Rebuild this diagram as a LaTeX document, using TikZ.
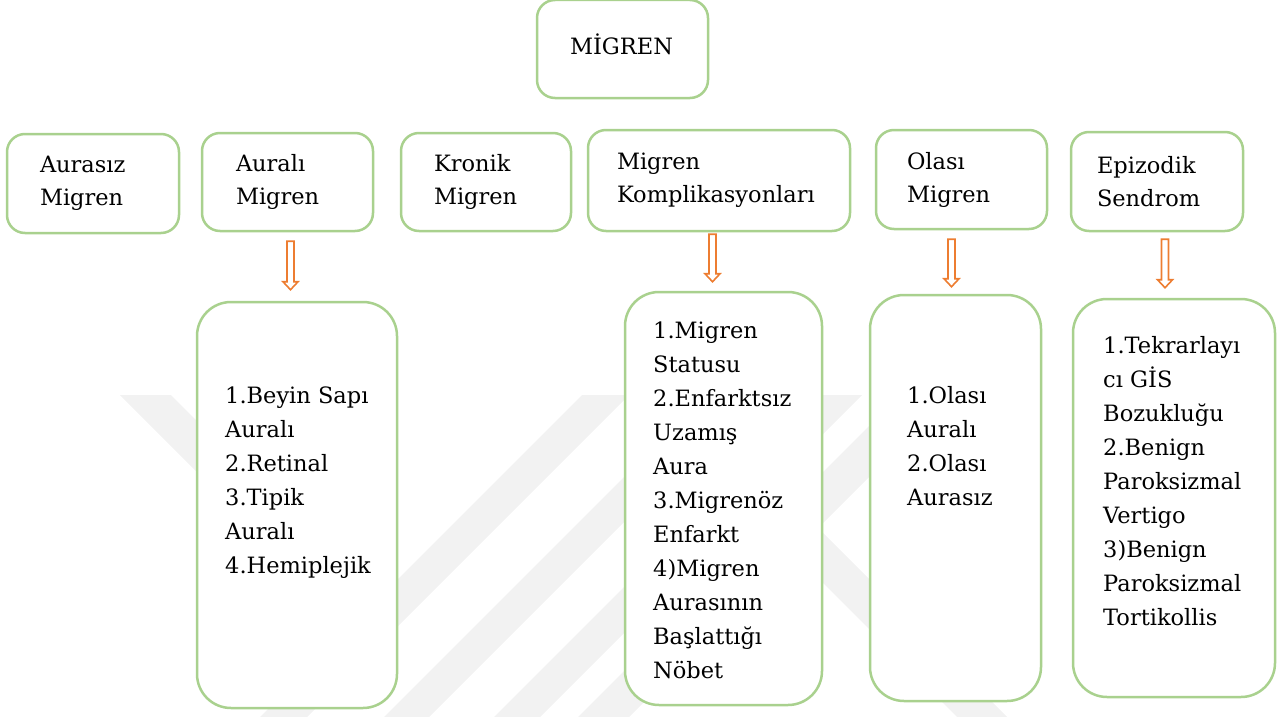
\documentclass[tikz,border=0pt]{standalone}
\usepackage{fontspec}
\setmainfont{DejaVu Serif}
\usetikzlibrary{positioning,calc}
\definecolor{boxgreen}{HTML}{A9D18E}
\definecolor{arroworange}{HTML}{ED7D31}
\hyphenpenalty=10000
\tikzset{
  topbox/.style = {draw=boxgreen, line width=2.5pt, fill=white,
    rounded corners=18pt, align=left, inner ysep=0pt,
    font=\fontsize{22.5}{33}\selectfont},% kutu, ust sira
  listbox/.style = {draw=boxgreen, line width=2.5pt, fill=white,
    rounded corners=34pt, inner sep=0pt},% kutu, alt sira
  listtext/.style = {align=left, inner sep=0pt,
    font=\fontsize{22.5}{34}\selectfont},% alt sira yazisi
  hollow/.style = {draw=arroworange, line width=1.6pt, fill=white,
    line join=miter,
    to path={($(\tikztostart)+(-3.5,0)$) -- ($(\tikztostart)+(3.5,0)$)
      -- ($(\tikztotarget)+(3.5,-8)$) -- ($(\tikztotarget)+(7.5,-8)$)
      -- (\tikztotarget) -- ($(\tikztotarget)+(-7.5,-8)$)
      -- ($(\tikztotarget)+(-3.5,-8)$) -- cycle}},% ici bos ok
  watermark/.style = {fill=black!5}
}

\begin{document}
\begin{tikzpicture}[x=1pt,y=-1pt]
    \useasboundingbox (0,0) rectangle (1279,717);
    % soluk arka plan
    \fill[watermark] (120,395) -- (171,395) -- (376.5,600.5) -- (374.5,649.5) -- cycle;
    \fill[watermark] (582,395) -- (629,395) -- (307,717) -- (260,717) -- cycle;
    \fill[watermark] (706,395) -- (751,395) -- (429,717) -- (384,717) -- cycle;
    \fill[watermark] (816,395) -- (862,395) -- (540,717) -- (494,717) -- cycle;
    \fill[watermark] (900,395) -- (951,395) -- (629,717) -- (578,717) -- cycle;
    \fill[watermark] (720,480) -- (770,480) -- (1007,717) -- (957,717) -- cycle;

    % ust kutular
    \node[topbox, inner xsep=33pt, text width=105pt, minimum height=98pt, text depth=10pt] (migren) at (622.5,49) {M\.{I}GREN};
    \node[topbox, inner xsep=33pt, text width=106pt, minimum height=99pt] (aurasiz) at (93,183.5) {Aurasız\\Migren};
    \node[topbox, inner xsep=34pt, text width=103pt, minimum height=98pt] (aurali) at (287.5,182) {Auralı\\Migren};
    \node[topbox, inner xsep=33pt, text width=104pt, minimum height=98pt] (kronik) at (486,182) {Kronik\\Migren};
    \node[topbox, inner xsep=29pt, text width=204pt, minimum height=101pt] (komp) at (719,180.5) {Migren\\Komplikasyonları};
    \node[topbox, inner xsep=31pt, text width=109pt, minimum height=99pt] (olasi) at (961.5,179.5) {Olası\\Migren};
    \node[topbox, inner xsep=26pt, text width=120pt, minimum height=99pt] (epizodik) at (1157,181.5) {Epizodik\\Sendrom};

    % alt kutular
    \node[listbox, minimum width=200pt, minimum height=406pt] (auralilist) at (297,505) {};
    \node[listbox, minimum width=197pt, minimum height=413pt] (komplist) at (723.5,498.5) {};
    \node[listbox, minimum width=171pt, minimum height=406pt] (olasilist) at (955.5,498) {};
    \node[listbox, minimum width=202pt, minimum height=398pt] (epizlist) at (1174,498) {};

    % yazilar, son satirin taban cizgisine gore
    \node[listtext, anchor=base west] (auralitxt) at (225,573)
        {1.Beyin Sapı\\Auralı\\2.Retinal\\3.Tipik\\Auralı\\4.Hemiplejik};
    \node[listtext, anchor=base west] (komptxt) at (653,678)
        {1.Migren\\Statusu\\2.Enfarktsız\\Uzamış\\Aura\\3.Migrenöz\\Enfarkt\\4)Migren\\Aurasının\\Başlattığı\\Nöbet};
    \node[listtext, anchor=base west] (olasitxt) at (907,505)
        {1.Olası\\Auralı\\2.Olası\\Aurasız};
    \node[listtext, anchor=base west] (epiztxt) at (1103,625)
        {1.Tekrarlayı\\cı G\.{I}S\\Bozukluğu\\2.Benign\\Paroksizmal\\Vertigo\\3)Benign\\Paroksizmal\\Tortikollis};

    % oklar
    \coordinate (a1s) at ([xshift=3pt,yshift=-9pt]aurali.south);
    \coordinate (a1e) at ($(a1s |- auralilist.north)+(0,-11)$);
    \coordinate (a2s) at ([xshift=-6.5pt,yshift=-2pt]komp.south);
    \coordinate (a2e) at ($(a2s |- komplist.north)+(0,-9)$);
    \coordinate (a3s) at ([xshift=-10pt,yshift=-9pt]olasi.south);
    \coordinate (a3e) at ($(a3s |- olasilist.north)+(0,-7)$);
    \coordinate (a4s) at ([xshift=8pt,yshift=-7pt]epizodik.south);
    \coordinate (a4e) at ($(a4s |- epizlist.north)+(0,-10)$);
    \draw[hollow] (a1s) to (a1e);
    \draw[hollow] (a2s) to (a2e);
    \draw[hollow] (a3s) to (a3e);
    \draw[hollow] (a4s) to (a4e);
\end{tikzpicture}
\end{document}
